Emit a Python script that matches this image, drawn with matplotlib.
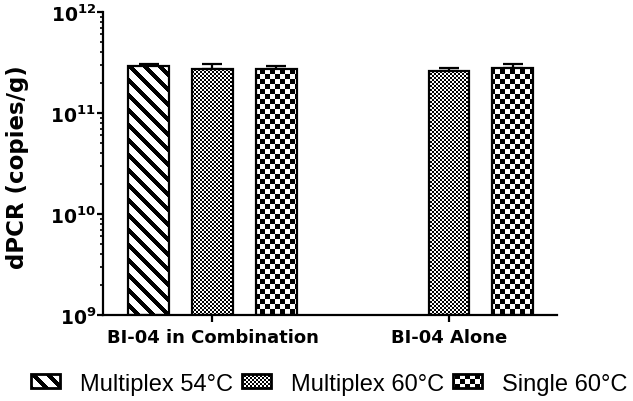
import numpy as np
import matplotlib
matplotlib.use("Agg")
import matplotlib.pyplot as plt
from matplotlib.patches import Patch
from matplotlib.ticker import FuncFormatter, LogLocator, NullFormatter

plt.rcParams['font.family'] = 'DejaVu Sans'
plt.rcParams['mathtext.fontset'] = 'custom'
plt.rcParams['mathtext.bf'] = 'DejaVu Sans:bold'
plt.rcParams['mathtext.rm'] = 'DejaVu Sans:bold'

# -----------------------------
# data (copies/g), nan = not run
# -----------------------------
groups = ["BI-04 in Combination", "BI-04 Alone"]
labels = ["Multiplex 54°C", "Multiplex 60°C", "Single 60°C"]

mplex54 = [2.92e11, np.nan]
mplex54_err = [0.14e11, np.nan]
mplex60 = [2.73e11, 2.61e11]
mplex60_err = [0.33e11, 0.18e11]
single60 = [2.73e11, 2.79e11]
single60_err = [0.19e11, 0.27e11]

ymin, ymax = 1e9, 1e12

# -----------------------------
# pattern fills (pixel images, clipped to each bar)
# -----------------------------
W, H = 633, 402
rr, cc = np.mgrid[0:H, 0:W]

def pattern(kind):
    if kind == 'stripes':
        on = ((cc - rr) % 15) < 6
    elif kind == 'fine':
        on = ((rr // 2 + cc // 2) % 2) == 0
    else:
        on = ((rr // 5 + cc // 5) % 2) == 0
    img = np.zeros((H, W, 4), dtype=np.uint8)
    img[on, 3] = 255
    return img

kinds = ['stripes', 'fine', 'coarse']

# -----------------------------
# figure
# -----------------------------
fig = plt.figure(figsize=(6.33, 4.02), dpi=100)
ax = fig.add_axes([0.1627, 0.2139, 0.88 - 0.1627, 0.9677 - 0.2139])

x = np.arange(len(groups))
offset = 0.27
width = 0.173

series = [(mplex54, mplex54_err), (mplex60, mplex60_err), (single60, single60_err)]
bar_sets = []
for k, (vals, errs) in enumerate(series):
    vals = np.array(vals)
    pos = x + (k - 1) * offset
    bars = ax.bar(pos, vals - ymin, width, bottom=ymin, facecolor='white',
                  edgecolor='black', linewidth=1.6, zorder=2)
    ax.errorbar(pos, vals, yerr=[np.zeros(len(vals)), errs], fmt='none',
                ecolor='black', elinewidth=1.6, capsize=7, capthick=1.6, zorder=1)
    bar_sets.append((bars, vals))

ax.set_yscale('log')
ax.set_ylim(ymin, ymax)
ax.set_xlim(-0.463, 1.457)

ax.yaxis.set_major_locator(LogLocator(base=10))
ax.yaxis.set_minor_locator(LogLocator(base=10, subs=np.arange(2, 10)))
ax.yaxis.set_minor_formatter(NullFormatter())
ax.yaxis.set_major_formatter(FuncFormatter(
    lambda v, p: r'$\mathbf{10^{%d}}$' % round(np.log10(v))))

ax.set_xticks(x, groups, fontweight='bold', fontsize=13)
ax.tick_params(axis='x', length=5, width=1.6, pad=4)
ax.tick_params(axis='y', which='major', length=4, width=1.6, labelsize=13.5, pad=1)
ax.tick_params(axis='y', which='minor', length=2.5, width=1.2)

for s in ['top', 'right']:
    ax.spines[s].set_visible(False)
for s in ['left', 'bottom']:
    ax.spines[s].set_linewidth(1.6)

ax.set_ylabel('dPCR (copies/g)', fontweight='bold', fontsize=16.5)
ax.yaxis.set_label_coords(-0.162, 0.49)

# legend
handles = [Patch(facecolor='white', edgecolor='black', linewidth=2) for _ in labels]
leg = fig.legend(handles, labels, loc='center', bbox_to_anchor=(0.52, 0.043),
                 ncol=3, frameon=False,
                 prop={'family': 'Liberation Sans', 'size': 17},
                 handlelength=1.23, handleheight=0.55, handletextpad=0.85,
                 columnspacing=0.38)

# fill bars and legend swatches with the patterns
for (bars, vals), kind in zip(bar_sets, kinds):
    img = pattern(kind)
    for b, v in zip(bars, vals):
        if np.isnan(v):
            continue
        im = fig.figimage(img, xo=0, yo=0, origin='upper', zorder=6)
        im.set_clip_path(b)

for h, kind in zip(leg.legend_handles, kinds):
    im = fig.figimage(pattern(kind), xo=0, yo=0, origin='upper', zorder=6)
    im.set_clip_path(h)

fig.savefig('out.png', dpi=100)
